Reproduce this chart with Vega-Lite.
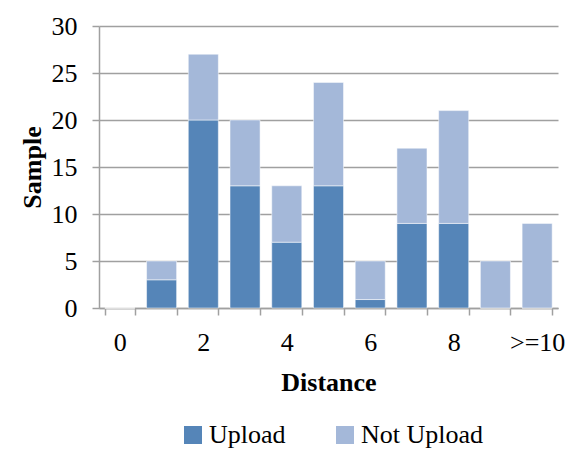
{
  "$schema": "https://vega.github.io/schema/vega-lite/v6.json",
  "autosize": "none",
  "width": 459,
  "height": 282,
  "padding": {"left": 99, "top": 26, "right": 17, "bottom": 142},
  "background": "white",
  "data": {"values": [
    {"d": "0", "s": "Upload", "o": 1, "v": 0}, {"d": "0", "s": "Not Upload", "o": 2, "v": 0},
    {"d": "1", "s": "Upload", "o": 1, "v": 3}, {"d": "1", "s": "Not Upload", "o": 2, "v": 2},
    {"d": "2", "s": "Upload", "o": 1, "v": 20}, {"d": "2", "s": "Not Upload", "o": 2, "v": 7},
    {"d": "3", "s": "Upload", "o": 1, "v": 13}, {"d": "3", "s": "Not Upload", "o": 2, "v": 7},
    {"d": "4", "s": "Upload", "o": 1, "v": 7}, {"d": "4", "s": "Not Upload", "o": 2, "v": 6},
    {"d": "5", "s": "Upload", "o": 1, "v": 13}, {"d": "5", "s": "Not Upload", "o": 2, "v": 11},
    {"d": "6", "s": "Upload", "o": 1, "v": 0.9}, {"d": "6", "s": "Not Upload", "o": 2, "v": 4.1},
    {"d": "7", "s": "Upload", "o": 1, "v": 9}, {"d": "7", "s": "Not Upload", "o": 2, "v": 8},
    {"d": "8", "s": "Upload", "o": 1, "v": 9}, {"d": "8", "s": "Not Upload", "o": 2, "v": 12},
    {"d": "9", "s": "Upload", "o": 1, "v": 0}, {"d": "9", "s": "Not Upload", "o": 2, "v": 5},
    {"d": ">=10", "s": "Upload", "o": 1, "v": 0}, {"d": ">=10", "s": "Not Upload", "o": 2, "v": 9}
  ]},
  "mark": {"type": "bar", "stroke": "white", "strokeWidth": 0.5},
  "encoding": {
    "x": {
      "field": "d", "type": "nominal",
      "sort": ["0", "1", "2", "3", "4", "5", "6", "7", "8", "9", ">=10"],
      "scale": {"paddingInner": 0.28, "paddingOuter": 0.14},
      "axis": {
        "title": "Distance", "labelAngle": 0,
        "labelExpr": "indexof(['1','3','5','7','9'], datum.value) >= 0 ? '' : datum.value",
        "tickBand": "extent", "tickSize": 7, "tickColor": "#a0a0a0", "tickWidth": 1.5,
        "domainColor": "#a0a0a0", "domainWidth": 1.5,
        "labelFont": "Liberation Serif", "labelFontSize": 26, "labelColor": "black", "labelPadding": 14,
        "titleFont": "Liberation Serif", "titleFontSize": 26, "titleFontWeight": "bold", "titleColor": "black", "titlePadding": 14
      }
    },
    "y": {
      "field": "v", "type": "quantitative", "stack": "zero",
      "scale": {"domain": [0, 30]},
      "axis": {
        "title": "Sample", "values": [0, 5, 10, 15, 20, 25, 30],
        "grid": true, "gridColor": "#a0a0a0", "gridWidth": 1.5,
        "tickSize": 7, "tickColor": "#a0a0a0", "tickWidth": 1.5,
        "domainColor": "#a0a0a0", "domainWidth": 1.5,
        "labelFont": "Liberation Serif", "labelFontSize": 26, "labelColor": "black", "labelPadding": 15,
        "titleFont": "Liberation Serif", "titleFontSize": 26, "titleFontWeight": "bold", "titleColor": "black", "titlePadding": 6
      }
    },
    "color": {
      "field": "s", "type": "nominal",
      "scale": {"domain": ["Upload", "Not Upload"], "range": ["#5585b8", "#a4b8d9"]},
      "legend": {
        "title": null, "orient": "none", "direction": "horizontal",
        "legendX": 81, "legendY": 396,
        "symbolType": "square", "symbolSize": 324, "symbolStrokeWidth": 0,
        "labelFont": "Liberation Serif", "labelFontSize": 26, "labelColor": "black",
        "columnPadding": 46, "labelOffset": 3
      }
    },
    "order": {"field": "o", "type": "quantitative"}
  },
  "config": {"view": {"stroke": null}}
}
